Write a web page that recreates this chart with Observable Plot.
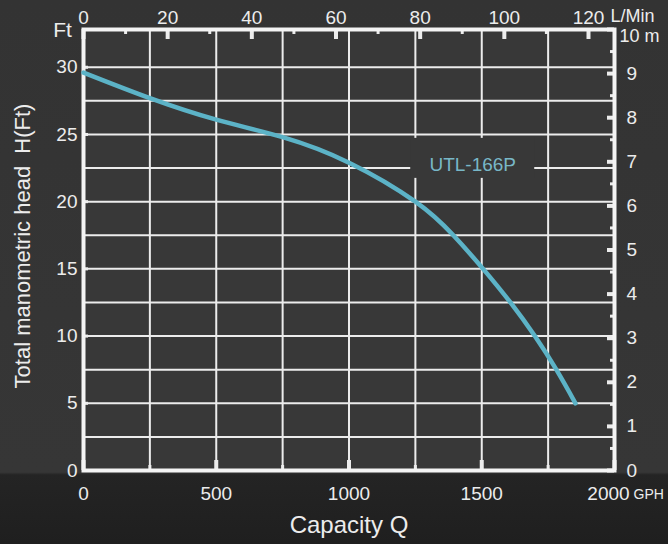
<!DOCTYPE html>
<html>
<head>
<meta charset="utf-8">
<script src="https://cdn.jsdelivr.net/npm/d3@7"></script>
<script src="https://cdn.jsdelivr.net/npm/@observablehq/plot@0.6"></script>
<style>
  html, body { margin: 0; padding: 0; background: #222; }
  #chart svg { display: block; }
</style>
</head>
<body>
<div id="chart"></div>
<script>
// ---- data ----
const flowGPH = [0, 250, 500, 750, 1000, 1250, 1393, 1505, 1608, 1700, 1781, 1853];
const headFt  = [29.6, 27.7, 26.1, 24.8, 22.9, 20.0, 17.5, 15.0, 12.5, 10.0, 7.5, 5.0];

const gphTicks   = [0, 500, 1000, 1500, 2000];
const gphMinor   = [250, 750, 1250, 1750];
const ftTicks    = [0, 5, 10, 15, 20, 25, 30];
const ftGrid     = [2.5, 5, 7.5, 10, 12.5, 15, 17.5, 20, 22.5, 25, 27.5, 30];
const gphGrid    = [250, 500, 750, 1000, 1250, 1500, 1750];
const meterTicks = [0, 1, 2, 3, 4, 5, 6, 7, 8, 9, 10];
const meterMinor = [0.5, 1.5, 2.5, 3.5, 4.5, 5.5, 6.5, 7.5, 8.5, 9.5];
const lpmTicks   = [0, 20, 40, 60, 80, 100, 120];
const lpmMinor   = [10, 30, 50, 70, 90, 110];

const curveLabels = [{name: "UTL-166P", q: 1466, h: 22.7}];

const FT_PER_M = 3.28084;
const GPH_PER_LPM = 60 / 3.78541;

const plotBg = "#383838";
const ink = "#ececec";
const gridColor = "#ececec";
const curveColor = "#5cb3c7";

const chart = Plot.plot({
  width: 668,
  height: 544,
  marginLeft: 83,
  marginRight: 54,
  marginTop: 29,
  marginBottom: 74,
  style: {
    fontFamily: "'Liberation Sans', Arial, sans-serif",
    background: "linear-gradient(to bottom, #333 0%, #363636 86.8%, #242424 87.3%, #1f1f1f 100%)",
    color: ink
  },
  x: {domain: [0, 2000], axis: null},
  y: {domain: [0, 10 * FT_PER_M], axis: null},
  marks: [
    Plot.frame({fill: plotBg}),
    Plot.ruleY(ftGrid, {y: d => d, stroke: gridColor, strokeWidth: 2}),
    Plot.ruleX(gphGrid, {x: d => d, stroke: gridColor, strokeWidth: 2}),
    Plot.rect(curveLabels, {x1: "q", x2: "q", y1: "h", y2: "h",
      insetLeft: -62, insetRight: -62, insetTop: -27, insetBottom: -13, fill: plotBg}),
    // inward ticks
    Plot.ruleX(lpmTicks, {x: d => d * GPH_PER_LPM, y1: () => 10 * FT_PER_M, y2: () => 10 * FT_PER_M, insetBottom: -10, stroke: gridColor, strokeWidth: 4}),
    Plot.ruleX(lpmMinor, {x: d => d * GPH_PER_LPM, y1: () => 10 * FT_PER_M, y2: () => 10 * FT_PER_M, insetBottom: -5, stroke: gridColor, strokeWidth: 3}),
    Plot.ruleY(meterTicks, {y: d => d * FT_PER_M, x1: () => 2000, x2: () => 2000, insetLeft: -7, stroke: gridColor, strokeWidth: 4}),
    Plot.ruleY(meterMinor, {y: d => d * FT_PER_M, x1: () => 2000, x2: () => 2000, insetLeft: -4, stroke: gridColor, strokeWidth: 3}),
    Plot.ruleX(gphTicks, {x: d => d, y1: () => 0, y2: () => 0, insetTop: -10, stroke: gridColor, strokeWidth: 4}),
    Plot.ruleX(gphMinor, {x: d => d, y1: () => 0, y2: () => 0, insetTop: -5, stroke: gridColor, strokeWidth: 3}),
    Plot.ruleY(ftTicks, {y: d => d, x1: () => 0, x2: () => 0, insetRight: -5, stroke: gridColor, strokeWidth: 3}),
    Plot.frame({stroke: "#f4f4f4", strokeWidth: 4}),
    // curve
    Plot.line(flowGPH.map((q, i) => ({q, h: headFt[i]})), {
      x: "q", y: "h", curve: "natural", stroke: curveColor, strokeWidth: 4.5, strokeLinecap: "round"
    }),
    Plot.text(curveLabels, {x: "q", y: "h", text: "name", fill: "#78b7c7", fontSize: 19}),
    // left axis labels (ft)
    Plot.text(ftTicks, {y: d => d, frameAnchor: "left", dx: -6, textAnchor: "end", lineAnchor: "middle", text: d => String(d), fill: ink, fontSize: 19}),
    Plot.text(["Ft"], {frameAnchor: "top-left", dx: -21, dy: 1, textAnchor: "middle", lineAnchor: "middle", text: d => d, fill: ink, fontSize: 21}),
    // right axis labels (m)
    Plot.text(meterTicks.filter(m => m < 10), {y: d => d * FT_PER_M, frameAnchor: "right", dx: 12, textAnchor: "start", lineAnchor: "middle", text: d => String(d), fill: ink, fontSize: 19}),
    Plot.text(["10 m"], {frameAnchor: "top-right", dx: 5, dy: 7, textAnchor: "start", lineAnchor: "middle", text: d => d, fill: ink, fontSize: 18}),
    // top axis labels (L/Min)
    Plot.text(lpmTicks, {x: d => d * GPH_PER_LPM, frameAnchor: "top", dy: -12, lineAnchor: "middle", text: d => String(d), fill: ink, fontSize: 19}),
    Plot.text(["L/Min"], {x: () => lpmTicks[lpmTicks.length - 1] * GPH_PER_LPM, frameAnchor: "top", dy: -13, dx: 22, textAnchor: "start", lineAnchor: "middle", text: d => d, fill: ink, fontSize: 18}),
    // bottom axis labels (GPH)
    Plot.text(gphTicks.slice(0, -1), {x: d => d, frameAnchor: "bottom", dy: 23, lineAnchor: "middle", text: d => String(d), fill: ink, fontSize: 19}),
    Plot.text(gphTicks.slice(-1), {x: d => d, frameAnchor: "bottom", dy: 23, dx: -6, lineAnchor: "middle", text: d => String(d), fill: ink, fontSize: 19}),
    Plot.text(["GPH"], {x: () => gphTicks[gphTicks.length - 1], frameAnchor: "bottom", dy: 24, dx: 19, textAnchor: "start", lineAnchor: "middle", text: d => d, fill: ink, fontSize: 14}),
    // titles
    Plot.text(["Capacity Q"], {frameAnchor: "bottom", dy: 55, lineAnchor: "middle", text: d => d, fill: ink, fontSize: 24}),
    Plot.text(["Total manometric head  H(Ft)"], {frameAnchor: "left", dx: -61, dy: -4, rotate: -90, textAnchor: "middle", lineAnchor: "middle", text: d => d, fill: ink, fontSize: 22})
  ]
});
document.getElementById("chart").appendChild(chart);
</script>
</body>
</html>
